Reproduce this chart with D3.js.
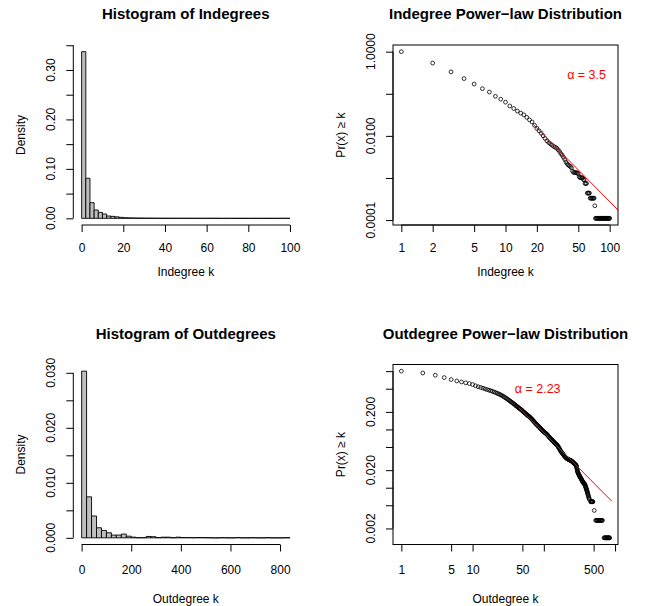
<!DOCTYPE html>
<html>
<head>
<meta charset="utf-8">
<script src="https://cdn.jsdelivr.net/npm/d3@7"></script>
<style>
  body { margin: 0; background: #fff; }
  text { font-family: "Liberation Sans", Arial, Helvetica, sans-serif; fill: #000; }
</style>
</head>
<body>
<svg id="chart" width="649" height="606"></svg>
<script>
// ---- data ----
// indegree histogram, bins of width 2 (density)
var inBreaks = [0,2,4,6,8,10,12,14,16,18,20,22,24,26,28,30,32,34,36,38,40,42,44,46,48,50,
  52,54,56,58,60,62,64,66,68,70,72,74,76,78,80,82,84,86,88,90,92,94,96,98,100];
var inDensity = [0.337,0.081,0.0316,0.0168,0.012,0.0087,0.0047,0.004,0.003,0.002,
  0.0012,0.001,0.0008,0.0006,0.0005,0.0004,0.0003,0.0003,0.0002,0.0002,
  0.00015,0.0001,0.0001,0.0001,0.00008,0.00005,0.00005,0.00004,0.00003,0.00003,
  0.00002,0.00002,0.00002,0.00001,0.00001,0.00001,0.00001,0.00001,0,0,
  0,0,0,0,0,0,0,0,0,0.00005];

// outdegree histogram, bins of width 20 (density)
var outBreaks = [0,20,40,60,80,100,120,140,160,180,200,220,240,260,280,300,320,340,360,380,400,
  420,440,460,480,500,520,540,560,580,600,620,640,660,680,700,720,740,760,780,800,820,840];
var outDensity = [0.0303,0.00745,0.00397,0.00183,0.00135,0.00092,0.0005,0.0005,0.00068,0.0003,
  0.00012,0.00003,0.00003,0.00025,0.0002,0.00005,0.00012,0.00012,0.00003,0.00012,
  0.00006,0.00006,0.00003,0.00006,0.00006,0.00003,0,0,0.00003,0,
  0,0.00006,0,0,0.00003,0,0,0.00003,0,0,0,0.00003];

// indegree CCDF  Pr(X >= k)
var inK = [1,2,3,4,5,6,7,8,9,10,11,12,13,14,15,16,17,18,19,20,
  21,22,23,24,25,26,27,28,29,30,31,32,33,34,35,36,37,38,39,40,
  41,42,43,44,45,46,47,48,49,50,51,52,53,54,55,56,57,58,59,60,
  61,62,63,64,65,66,67,68,69,70,71,72,73,74,75,76,77,78,79,80,
  81,82,83,84,85,86,87,88,89,90,91,92,93,94,95,96,97,98,99,100];
var inP = [1,0.537,0.331,0.229,0.170,0.132,0.110,0.0871,0.0741,0.0631,
  0.0513,0.0447,0.0389,0.0347,0.0316,0.0275,0.0240,0.0214,0.0178,0.0151,
  0.0132,0.0115,0.0100,0.00871,0.00759,0.00692,0.00646,0.00603,0.00562,0.00537,
  0.00513,0.00468,0.00427,0.00380,0.00347,0.00309,0.00275,0.00240,0.00219,0.00204,
  0.00195,0.00186,0.00174,0.00145,0.00135,0.00135,0.00135,0.00132,0.00132,0.00126,
  0.00107,0.00102,0.00102,0.00102,0.00100,0.000912,0.000912,0.000741,0.000741,0.000741,
  0.000437,0.000437,0.000437,0.000437,0.000331,0.000331,0.000331,0.000331,0.000331,0.000331,
  0.000331,0.000219,0.00011,0.00011,0.00011,0.00011,0.00011,0.00011,0.00011,0.00011,
  0.00011,0.00011,0.00011,0.00011,0.00011,0.00011,0.00011,0.00011,0.00011,0.00011,
  0.00011,0.00011,0.00011,0.00011,0.00011,0.00011,0.00011,0.00011,0.00011,0.00011];

// outdegree CCDF  Pr(X >= k)
var outK = [1,2,3,4,5,6,7,8,9,10,11,12,13,14,15,16,17,18,19,20,
  21,22,23,24,25,26,27,28,29,30,31,32,33,34,35,36,37,38,39,40,
  41,42,43,44,45,46,47,48,49,50,51,52,53,54,55,56,57,58,59,60,
  61,62,63,64,65,66,67,68,69,70,71,72,73,74,75,77,78,80,81,83,
  84,86,87,89,90,92,93,95,96,98,99,101,102,104,106,108,110,112,114,116,
  118,120,122,124,126,128,130,132,134,136,138,140,142,144,146,148,150,152,154,156,
  158,160,162,164,167,169,172,174,177,179,182,185,188,191,194,197,200,203,206,209,
  212,215,218,221,224,227,230,233,236,239,242,245,248,251,254,257,260,263,266,269,
  272,275,278,281,284,286,288,290,292,294,296,298,300,303,306,309,312,315,318,321,
  324,327,330,333,336,339,342,345,348,352,355,358,362,366,370,373,376,379,382,385,
  388,391,394,397,400,403,406,410,413,416,420,424,428,432,436,
  455,460,465,470,475,480,485,490,510,
  535,545,555,565,575,585,595,605,615,625,635,645,655,665,
  700,712,724,736,748,760,772,784,796,808,820,832,840];
var outP = [1,0.931,0.851,0.776,0.718,0.679,0.653,0.631,0.612,0.589,0.562,0.540,0.525,0.511,0.495,0.483,0.472,0.461,0.451,0.440,
  0.429,0.419,0.409,0.400,0.390,0.380,0.369,0.359,0.349,0.339,0.330,0.321,0.312,0.303,0.296,0.288,0.281,0.274,0.267,0.260,
  0.254,0.248,0.243,0.237,0.232,0.227,0.223,0.218,0.214,0.209,0.204,0.200,0.196,0.192,0.189,0.185,0.182,0.178,0.175,0.172,
  0.170,0.167,0.165,0.161,0.158,0.155,0.153,0.150,0.147,0.144,0.141,0.138,0.136,0.133,0.131,0.126,0.124,0.120,0.118,0.115,
  0.114,0.110,0.108,0.105,0.104,0.1005,0.0993,0.0968,0.0955,0.0932,0.0920,0.0900,0.0891,0.0876,0.0861,0.0845,0.0828,0.0809,0.0791,0.0770,
  0.0750,0.0733,0.0716,0.0701,0.0687,0.0674,0.0661,0.0648,0.0635,0.0623,0.0612,0.0600,0.0589,0.0580,0.0571,0.0562,0.0553,0.0545,0.0537,0.0525,
  0.0513,0.0500,0.0488,0.0476,0.0457,0.0445,0.0429,0.0420,0.0407,0.0400,0.0389,0.0380,0.0370,0.0361,0.0351,0.0343,0.0335,0.0330,0.0324,0.0320,
  0.0315,0.0312,0.0309,0.0306,0.0304,0.0301,0.0299,0.0297,0.0294,0.0292,0.0290,0.0287,0.0284,0.0281,0.0277,0.0273,0.0269,0.0266,0.0262,0.0259,
  0.0255,0.0252,0.0249,0.0246,0.0243,0.0236,0.0229,0.0219,0.0209,0.0201,0.0193,0.0189,0.0184,0.0179,0.0174,0.0170,0.0166,0.0162,0.0158,0.0155,
  0.0151,0.0149,0.0146,0.0144,0.0141,0.0138,0.0135,0.0132,0.0129,0.0127,0.0124,0.0122,0.0120,0.0119,0.0117,0.0116,0.0114,0.0111,0.0108,0.0105,
  0.0102,0.00994,0.00966,0.00939,0.00912,0.00886,0.00861,0.00826,0.00794,0.00770,0.00741,0.00708,0.00676,0.00655,0.00631,
  0.00575,0.00575,0.00575,0.00575,0.00575,0.00575,0.00575,0.00575,0.00407,
  0.00275,0.00275,0.00275,0.00275,0.00275,0.00275,0.00275,0.00275,0.00275,0.00275,0.00275,0.00275,0.00275,0.00275,
  0.00138,0.00138,0.00138,0.00138,0.00138,0.00138,0.00138,0.00138,0.00138,0.00138,0.00138,0.00138,0.00138];

// fitted power laws: xmin, Pr at xmin, alpha, end of drawn line
var inFit = {xmin: 18, pmin: 0.020, alpha: 3.5, xend: 130};
var outFit = {xmin: 45, pmin: 0.234, alpha: 2.23, xend: 898};

// ticks and tick labels
var inHistXTicks = [0,20,40,60,80,100];
var inHistYTicks = [0,0.05,0.10,0.15,0.20,0.25,0.30,0.35];
var inHistYLabels = ["0.00","","0.10","","0.20","","0.30",""];
var outHistXTicks = [0,200,400,600,800];
var outHistYTicks = [0,0.005,0.010,0.015,0.020,0.025,0.030];
var outHistYLabels = ["0.000","","0.010","","0.020","","0.030"];
var inPowXTicks = [1,2,5,10,20,50,100];
var inPowXLabels = ["1","2","5","10","20","50","100"];
var inPowYTicks = [1,0.1,0.01,0.001,0.0001];
var inPowYLabels = ["1.0000","","0.0100","","0.0001"];
var outPowXTicks = [1,5,10,50,100,500,1000];
var outPowXLabels = ["1","5","10","50","","500",""];
var outPowYTicks = [1,0.5,0.2,0.1,0.05,0.02,0.01,0.005,0.002];
var outPowYLabels = ["","","0.200","","","0.020","","","0.002"];

// ---- drawing ----
var svg = d3.select("#chart");
var TICK = 7;

//R style 4% range extension
function extLin(a, b) { var d = (b - a) * 0.04; return [a - d, b + d]; }
function extLog(a, b) {
  var la = Math.log10(a), lb = Math.log10(b), d = (lb - la) * 0.04;
  return [Math.pow(10, la - d), Math.pow(10, lb + d)];
}

function axes(g, p, x, y, xt, xl, yt, yl) {
  var bottom = p.top + p.h;
  var ax = g.append("g").attr("transform", "translate(0," + bottom + ")")
    .call(d3.axisBottom(x).tickValues(xt).tickSize(TICK).tickSizeOuter(0)
      .tickPadding(p.labGap - TICK).tickFormat(function(d, i) { return xl[i]; }));
  ax.select(".domain").attr("d", "M" + x(xt[0]) + ",0H" + x(xt[xt.length - 1]));
  ax.selectAll("text").attr("font-size", 12).attr("font-family", null);
  ax.selectAll("line, path").attr("stroke", "#000");

  var ay = g.append("g").attr("transform", "translate(" + p.left + ",0)")
    .call(d3.axisLeft(y).tickValues(yt).tickSize(TICK).tickSizeOuter(0).tickFormat(""));
  ay.select(".domain").attr("d", "M0," + y(yt[0]) + "V" + y(yt[yt.length - 1]));
  ay.selectAll("line, path").attr("stroke", "#000");
  g.selectAll(null).data(yt).enter().append("text")
    .attr("transform", function(d) { return "translate(" + (p.left - 22.3) + "," + y(d) + ") rotate(-90)"; })
    .attr("text-anchor", "middle").attr("dy", "0.35em").attr("font-size", 12)
    .text(function(d, i) { return yl[i]; });
}

function labels(g, p, title, xlab, ylab) {
  g.append("text").attr("x", p.left + p.w / 2).attr("y", p.top - 26)
    .attr("text-anchor", "middle").attr("font-size", 15).attr("font-weight", "bold").text(title);
  g.append("text").attr("x", p.left + p.w / 2).attr("y", p.top + p.h + p.xlabGap)
    .attr("text-anchor", "middle").attr("font-size", 12).text(xlab);
  g.append("text").attr("transform", "translate(" + (p.left - 48.5) + "," + (p.top + p.h / 2) + ") rotate(-90)")
    .attr("text-anchor", "middle").attr("font-size", 12).text(ylab);
}

function histogram(p, breaks, dens, xt, yt, yl, title, xlab) {
  var g = svg.append("g");
  var x = d3.scaleLinear().domain(extLin(breaks[0], breaks[breaks.length - 1])).range([p.left, p.left + p.w]);
  var y = d3.scaleLinear().domain(extLin(0, d3.max(dens))).range([p.top + p.h, p.top]);
  // bars as paths so that empty bins still show as a line on the baseline
  g.selectAll("path.bar").data(dens).enter().append("path").attr("class", "bar")
    .attr("d", function(d, i) {
      var x0 = x(breaks[i]), x1 = x(breaks[i + 1]);
      return "M" + x0 + "," + y(0) + "V" + y(d) + "H" + x1 + "V" + y(0) + "Z";
    })
    .attr("fill", "#bebebe").attr("stroke", "#000").attr("stroke-width", 0.9);
  axes(g, p, x, y, xt, xt.map(String), yt, yl);
  labels(g, p, title, xlab, "Density");
}

function powerPlot(p, ks, ps, fit, xt, xl, yt, yl, title, xlab, alphaTxt, txtK, txtP, clipId) {
  var g = svg.append("g");
  var x = d3.scaleLog().domain(extLog(d3.min(ks), d3.max(ks))).range([p.left, p.left + p.w]);
  var y = d3.scaleLog().domain(extLog(d3.min(ps), d3.max(ps))).range([p.top + p.h, p.top]);
  svg.append("clipPath").attr("id", clipId).append("rect")
    .attr("x", p.left).attr("y", p.top).attr("width", p.w).attr("height", p.h);

  g.selectAll("circle").data(ks).enter().append("circle")
    .attr("cx", function(d) { return x(d); })
    .attr("cy", function(d, i) { return y(ps[i]); })
    .attr("r", 1.9).attr("fill", "none").attr("stroke", "#000").attr("stroke-width", 0.8);

  var fitLine = [fit.xmin, fit.xend].map(function(k) {
    return [k, fit.pmin * Math.pow(k / fit.xmin, 1 - fit.alpha)];
  });
  g.append("path").attr("clip-path", "url(#" + clipId + ")")
    .attr("d", d3.line().x(function(d) { return x(d[0]); }).y(function(d) { return y(d[1]); })(fitLine))
    .attr("fill", "none").attr("stroke", "#ff0000").attr("stroke-width", 1);

  g.append("text").attr("x", x(txtK)).attr("y", y(txtP)).attr("dy", "0.35em")
    .attr("text-anchor", "middle").attr("font-size", 12.5).style("fill", "#ff0000").text(alphaTxt);

  axes(g, p, x, y, xt, xl, yt, yl);
  g.append("rect").attr("x", p.left).attr("y", p.top).attr("width", p.w).attr("height", p.h)
    .attr("fill", "none").attr("stroke", "#000").attr("stroke-width", 1);
  labels(g, p, title, xlab, "Pr(x) \u2265 k");
}

var pInHist = {left: 73.3, top: 45, w: 225, h: 180, labGap: 18.5, xlabGap: 51};
var pInPow = {left: 393, top: 45, w: 225, h: 180, labGap: 18.5, xlabGap: 51};
var pOutHist = {left: 73.3, top: 364.5, w: 225, h: 180, labGap: 20.5, xlabGap: 58};
var pOutPow = {left: 393, top: 364.5, w: 225, h: 180, labGap: 20.5, xlabGap: 58};

histogram(pInHist, inBreaks, inDensity, inHistXTicks, inHistYTicks, inHistYLabels,
  "Histogram of Indegrees", "Indegree k");
powerPlot(pInPow, inK, inP, inFit, inPowXTicks, inPowXLabels, inPowYTicks, inPowYLabels,
  "Indegree Power\u2212law Distribution", "Indegree k", "\u03b1 = 3.5", 60, 0.28, "clipIn");
histogram(pOutHist, outBreaks, outDensity, outHistXTicks, outHistYTicks, outHistYLabels,
  "Histogram of Outdegrees", "Outdegree k");
powerPlot(pOutPow, outK, outP, outFit, outPowXTicks, outPowXLabels, outPowYTicks, outPowYLabels,
  "Outdegree Power\u2212law Distribution", "Outdegree k", "\u03b1 = 2.23", 82, 0.51, "clipOut");
</script>
</body>
</html>
